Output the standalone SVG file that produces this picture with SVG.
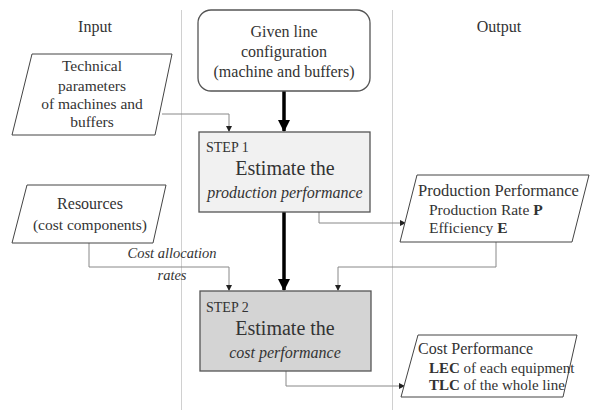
<svg xmlns="http://www.w3.org/2000/svg" width="591" height="410" viewBox="0 0 591 410">
<defs>
<marker id="sa" markerWidth="6" markerHeight="6" refX="5" refY="3" orient="auto" markerUnits="userSpaceOnUse">
<path d="M0,0 L6,3 L0,6 z" fill="#222"/>
</marker>
<marker id="ta" markerWidth="12" markerHeight="12" refX="11" refY="6" orient="auto" markerUnits="userSpaceOnUse">
<path d="M0,0 L12,6 L0,12 z" fill="#000"/>
</marker>
</defs>
<rect width="591" height="410" fill="#fff"/>
<g id="dividers" stroke="#d0d0d0" stroke-width="1">
<line x1="181.5" y1="10" x2="181.5" y2="410"/>
<line x1="392.5" y1="10" x2="392.5" y2="410"/>
</g>
<g id="headers" fill="#333">
<text font-family="Liberation Serif" font-size="16" text-anchor="middle" x="95" y="32">Input</text>
<text font-family="Liberation Serif" font-size="16" text-anchor="middle" x="499" y="32">Output</text>
</g>
<g id="connectors">
<g fill="none" stroke="#000" stroke-width="3.5">
<path d="M284,91 V131" marker-end="url(#ta)"/>
<path d="M284,212 V290" marker-end="url(#ta)"/>
</g>
<g fill="none" stroke="#888" stroke-width="1">
<path d="M162,114 H229 V131" marker-end="url(#sa)"/>
<path d="M89,243 V267 H229 V290" marker-end="url(#sa)"/>
<path d="M496,242 V267 H338 V290" marker-end="url(#sa)"/>
<path d="M319,212 V223 H405" marker-end="url(#sa)"/>
<path d="M286,371 V386 H404" marker-end="url(#sa)"/>
</g>
<text font-family="Liberation Serif" fill="#333" font-size="14.5" font-style="italic" text-anchor="middle" x="172" y="258">Cost allocation</text>
<text font-family="Liberation Serif" fill="#333" font-size="14.5" font-style="italic" text-anchor="middle" x="172" y="280">rates</text>
</g>
<g id="config" fill="#333">
<rect x="198" y="10" width="172" height="81" rx="13" fill="#fff" stroke="#555" stroke-width="1.3"/>
<text font-family="Liberation Serif" font-size="16" text-anchor="middle" x="284" y="37">Given line</text>
<text font-family="Liberation Serif" font-size="16" text-anchor="middle" x="284" y="57">configuration</text>
<text font-family="Liberation Serif" font-size="16" text-anchor="middle" x="284" y="77">(machine and buffers)</text>
</g>
<g id="technical" fill="#333">
<polygon points="32,54 172,54 155,135 12,135" fill="#fff" stroke="#444" stroke-width="1"/>
<text font-family="Liberation Serif" font-size="15.5" text-anchor="middle" x="92" y="71">Technical</text>
<text font-family="Liberation Serif" font-size="15.5" text-anchor="middle" x="92" y="91">parameters</text>
<text font-family="Liberation Serif" font-size="15.5" text-anchor="middle" x="92" y="109">of machines and</text>
<text font-family="Liberation Serif" font-size="15.5" text-anchor="middle" x="92" y="127">buffers</text>
</g>
<g id="resources" fill="#333">
<polygon points="27,185 166,185 153,243 12,243" fill="#fff" stroke="#444" stroke-width="1"/>
<text font-family="Liberation Serif" font-size="16" text-anchor="middle" x="90" y="209">Resources</text>
<text font-family="Liberation Serif" font-size="15.5" text-anchor="middle" x="90" y="230">(cost components)</text>
</g>
<g id="step1" fill="#333">
<rect x="199" y="132" width="171" height="80" fill="#f1f1f1" stroke="#555" stroke-width="1.3"/>
<text font-family="Liberation Serif" font-size="14" x="206" y="152">STEP 1</text>
<text font-family="Liberation Serif" font-size="20" text-anchor="middle" x="285" y="175">Estimate the</text>
<text font-family="Liberation Serif" font-size="16" font-style="italic" text-anchor="middle" x="285" y="198">production performance</text>
</g>
<g id="step2" fill="#333">
<rect x="200" y="291" width="171" height="80" fill="#d4d4d4" stroke="#555" stroke-width="1.3"/>
<text font-family="Liberation Serif" font-size="14" x="206" y="312">STEP 2</text>
<text font-family="Liberation Serif" font-size="20" text-anchor="middle" x="285" y="335">Estimate the</text>
<text font-family="Liberation Serif" font-size="16" font-style="italic" text-anchor="middle" x="285" y="358">cost performance</text>
</g>
<g id="prodperf" fill="#333">
<polygon points="417,175 589,175 572,242 400,242" fill="#fff" stroke="#444" stroke-width="1"/>
<text font-family="Liberation Serif" font-size="16.5" x="418" y="196">Production Performance</text>
<text font-family="Liberation Serif" font-size="15.5" x="429" y="215">Production Rate <tspan font-weight="bold">P</tspan></text>
<text font-family="Liberation Serif" font-size="15.5" x="429" y="233">Efficiency <tspan font-weight="bold">E</tspan></text>
</g>
<g id="costperf" fill="#333">
<polygon points="418,335 577,335 563,397 401,397" fill="#fff" stroke="#444" stroke-width="1"/>
<text font-family="Liberation Serif" font-size="16" x="418" y="354">Cost Performance</text>
<text font-family="Liberation Serif" font-size="15" x="429" y="373"><tspan font-weight="bold">LEC</tspan> of each equipment</text>
<text font-family="Liberation Serif" font-size="15" x="429" y="390"><tspan font-weight="bold">TLC</tspan> of the whole line</text>
</g>
</svg>
